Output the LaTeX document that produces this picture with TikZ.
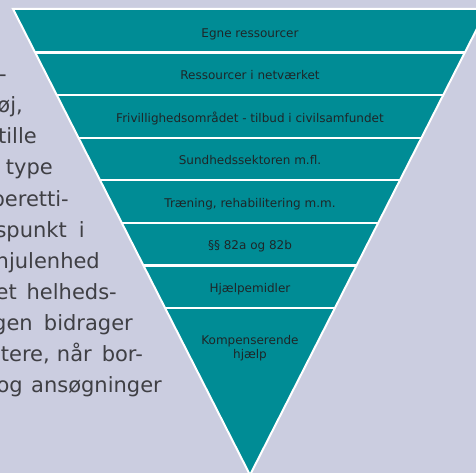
\documentclass[tikz,border=0pt]{standalone}
\usepackage{fontspec}
\setmainfont{DejaVu Sans}
\definecolor{bgc}{HTML}{CBCDE0}
\definecolor{tealc}{HTML}{008C95}
\definecolor{darktxt}{HTML}{1E2628}
\definecolor{greytxt}{HTML}{3F3F44}
\begin{document}
\begin{tikzpicture}[x=1pt,y=-1pt,
  band/.style={anchor=base, inner sep=0pt, text=darktxt, font=\fontsize{12}{14.5}\selectfont},
  lefttxt/.style={anchor=base east, inner sep=0pt, text=greytxt, font=\fontsize{21}{25}\selectfont},
  sep/.style={white, line width=2.4pt},
  edge/.style={white, line width=2pt, line join=miter}]
\useasboundingbox (0,0) rectangle (476,473);
\clip (0,0) rectangle (476,473);
\fill[bgc] (0,0) rectangle (476,473);
\coordinate (tl) at (13,9);
\coordinate (tr) at (487,9);
\coordinate (ap) at (250,475);
\fill[tealc] (tl) -- (tr) -- (ap) -- cycle;
\begin{scope}
  \clip (tl) -- (tr) -- (ap) -- cycle;
  \foreach \k in {1,...,7}
    \draw[sep] (0,{10+42.57*\k}) -- (476,{10+42.57*\k});
\end{scope}
\draw[edge] (tl) -- (tr) -- (ap) -- cycle;
% band labels
\node[band] (b1) at (250,37.1) {Egne ressourcer};
\node[band] (b2) at (250,79.7) {Ressourcer i netværket};
\node[band] (b3) at (250,122.2) {Frivillighedsområdet - tilbud i civilsamfundet};
\node[band] (b4) at (250,164.8) {Sundhedssektoren m.fl.};
\node[band] (b5) at (250,207.4) {Træning, rehabilitering m.m.};
\node[band] (b6) at (250,249.9) {§§ 82a og 82b};
\node[band] (b7) at (250,292.5) {Hjælpemidler};
\node[band] (b8a) at (250,344) {Kompenserende};
\node[band] (b8b) at (250,358.5) {hjælp};
% left running text (cut by the picture's left edge)
\node[lefttxt] (l1) at (7,82) {-};
\node[lefttxt] (l2) at (23,113) {øj,};
\node[lefttxt] (l3) at (37,144) {tille};
\node[lefttxt] (l4) at (53,175) {type};
\node[lefttxt] (l5) at (69,206) {beretti-};
\node[lefttxt] (l6a) at (67,237) {spunkt};
\node[lefttxt] (l6b) at (85,237) {i};
\node[lefttxt] (l7) at (100,268) {hjulenhed};
\node[lefttxt] (l8a) at (17,299) {et};
\node[lefttxt] (l8b) at (117,299) {helheds-};
\node[lefttxt] (l9a) at (33,330) {gen};
\node[lefttxt] (l9b) at (133,330) {bidrager};
\node[lefttxt] (l10a) at (50,361) {itere,};
\node[lefttxt] (l10b) at (92,361) {når};
\node[lefttxt] (l10c) at (143,361) {bor-};
\node[lefttxt] (l11a) at (23,392) {og};
\node[lefttxt] (l11b) at (162,392) {ansøgninger};
\end{tikzpicture}
\end{document}
